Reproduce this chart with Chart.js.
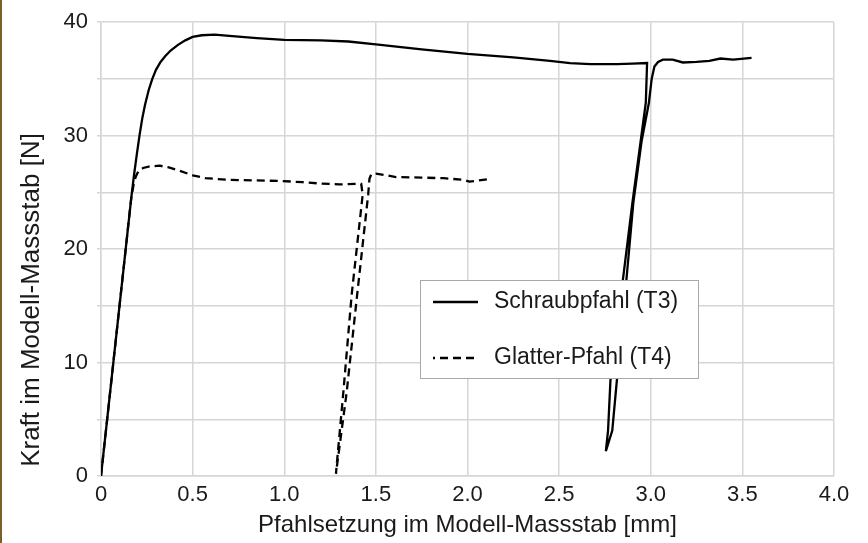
<!DOCTYPE html>
<html>
<head>
<meta charset="utf-8">
<script src="https://cdn.jsdelivr.net/npm/chart.js@4"></script>
<style>
  html, body { margin: 0; padding: 0; background: #fff; }
  #wrap { position: relative; width: 868px; height: 543px; }
  #strip { position: absolute; left: 0; top: 0; width: 2px; height: 543px; background: #7d5d2c; }
  canvas { position: absolute; left: 0; top: 0; }
</style>
</head>
<body>
<div id="wrap">
  <canvas id="chart" width="868" height="543"></canvas>
  <div id="strip"></div>
</div>
<script>
// Schraubpfahl (T3): settlement [mm] and force [N]
var t3X = [0, 0.165, 0.18, 0.195, 0.21, 0.225, 0.24, 0.26, 0.28, 0.30, 0.325, 0.35, 0.38, 0.42, 0.46, 0.5, 0.55, 0.62,
  0.7, 0.85, 1.0, 1.2, 1.35, 1.5, 1.75, 2.0, 2.25, 2.45, 2.56, 2.67, 2.815, 2.9, 2.98,
  2.973, 2.90, 2.78, 2.767, 2.755,
  2.79, 2.815, 2.86, 2.905, 2.95, 2.99, 3.005, 3.02, 3.04, 3.066, 3.12, 3.175, 3.25, 3.32, 3.38, 3.45, 3.55];
var t3Y = [0, 24.5, 26.5, 28.3, 30, 31.5, 32.7, 34, 35, 35.8, 36.5, 37, 37.5, 38.0, 38.4, 38.7, 38.85, 38.9,
  38.8, 38.6, 38.45, 38.4, 38.3, 38.05, 37.6, 37.2, 36.9, 36.6, 36.4, 36.3, 36.3, 36.35, 36.4,
  32.9, 24.1, 8.4, 4.0, 2.2,
  4.0, 8.4, 16, 24.1, 29.5, 32.9, 35, 36.1, 36.5, 36.7, 36.7, 36.45, 36.5, 36.6, 36.8, 36.7, 36.85];

// Glatter-Pfahl (T4)
var t4X = [0, 0.165, 0.178, 0.19, 0.205, 0.23, 0.27, 0.32, 0.37, 0.43, 0.5, 0.57, 0.7, 0.85, 0.99,
  1.1, 1.18, 1.3, 1.4, 1.42,
  1.428, 1.368, 1.322, 1.282,
  1.34, 1.398, 1.458, 1.465, 1.475, 1.5, 1.56, 1.61, 1.75, 1.87, 1.98, 2.01, 2.06, 2.11];
var t4Y = [0, 24.5, 25.7, 26.4, 26.9, 27.15, 27.3, 27.35, 27.2, 26.9, 26.5, 26.25, 26.1, 26.05, 26.0,
  25.9, 25.8, 25.7, 25.75, 25.75,
  24.8, 16, 7.3, 0.2,
  7.3, 16, 24.8, 26.2, 26.6, 26.65, 26.5, 26.35, 26.3, 26.25, 26.1, 25.95, 26.05, 26.15];

var seriesNames = ['Schraubpfahl (T3)', 'Glatter-Pfahl (T4)'];
var xTickLabels = ['0', '0.5', '1.0', '1.5', '2.0', '2.5', '3.0', '3.5', '4.0'];
var yTickLabels = ['0', '', '10', '', '20', '', '30', '', '40'];
var xTitle = 'Pfahlsetzung im Modell-Massstab [mm]';
var yTitle = 'Kraft im Modell-Massstab [N]';

function toPoints(xs, ys) {
  return xs.map(function (x, i) { return { x: x, y: ys[i] }; });
}

var FONT = '"Liberation Sans", Arial, sans-serif';
var GRID = '#d6d6d6';
var INK = '#1a1a1a';

// legend box drawn inside the plot, plus the rotated y title
var extras = {
  id: 'extras',
  afterDraw: function (chart) {
    var ctx = chart.ctx;
    ctx.save();
    // y axis title
    ctx.translate(32, 300);
    ctx.rotate(-Math.PI / 2);
    ctx.font = '26px ' + FONT;
    ctx.fillStyle = INK;
    ctx.textAlign = 'center';
    ctx.textBaseline = 'middle';
    ctx.fillText(yTitle, 0, 0);
    ctx.restore();

    ctx.save();
    ctx.fillStyle = '#fff';
    ctx.fillRect(420, 280, 278, 98);
    ctx.strokeStyle = '#a8a8a8';
    ctx.lineWidth = 1;
    ctx.strokeRect(420.5, 280.5, 278, 98);
    var rows = [302, 358];
    chart.data.datasets.forEach(function (ds, i) {
      ctx.beginPath();
      ctx.strokeStyle = ds.borderColor;
      ctx.lineWidth = ds.borderWidth;
      ctx.setLineDash(ds.borderDash || []);
      ctx.lineDashOffset = ds.borderDash ? 6 : 0;
      ctx.moveTo(433, rows[i]);
      ctx.lineTo(478, rows[i]);
      ctx.stroke();
      ctx.setLineDash([]);
      ctx.font = '23px ' + FONT;
      ctx.fillStyle = INK;
      ctx.textAlign = 'left';
      ctx.textBaseline = 'middle';
      ctx.fillText(ds.label, 494, rows[i]);
    });
    ctx.restore();
  }
};

new Chart(document.getElementById('chart'), {
  type: 'scatter',
  data: {
    datasets: [{
      label: seriesNames[0],
      data: toPoints(t3X, t3Y),
      showLine: true,
      borderColor: '#000',
      borderWidth: 2.3,
      pointRadius: 0,
      tension: 0
    }, {
      label: seriesNames[1],
      data: toPoints(t4X, t4Y),
      showLine: true,
      borderColor: '#000',
      borderWidth: 2.3,
      borderDash: [8, 5],
      pointRadius: 0,
      tension: 0
    }]
  },
  options: {
    responsive: false,
    animation: false,
    layout: { padding: { top: 19, right: 34, left: 0, bottom: 0 } },
    plugins: {
      legend: { display: false },
      tooltip: { enabled: false }
    },
    scales: {
      x: {
        type: 'linear',
        min: 0,
        max: 4,
        afterFit: function (s) { s.height = 67; },
        ticks: {
          stepSize: 0.5,
          padding: 6,
          color: INK,
          font: { family: FONT, size: 22 },
          callback: function (v, i) { return xTickLabels[i]; }
        },
        grid: { color: GRID, lineWidth: 1.5, drawTicks: false },
        border: { color: GRID, width: 1.5 },
        title: {
          display: true,
          text: xTitle,
          color: INK,
          font: { family: FONT, size: 24 },
          padding: { top: 0, bottom: 3 }
        }
      },
      y: {
        min: 0,
        max: 40,
        afterFit: function (s) { s.width = 101; },
        ticks: {
          stepSize: 5,
          padding: 9,
          color: INK,
          font: { family: FONT, size: 22 },
          callback: function (v, i) { return yTickLabels[i]; }
        },
        grid: { color: GRID, lineWidth: 1.5, tickLength: 4 },
        border: { color: GRID, width: 1.5 }
      }
    }
  },
  plugins: [extras]
});
</script>
</body>
</html>
